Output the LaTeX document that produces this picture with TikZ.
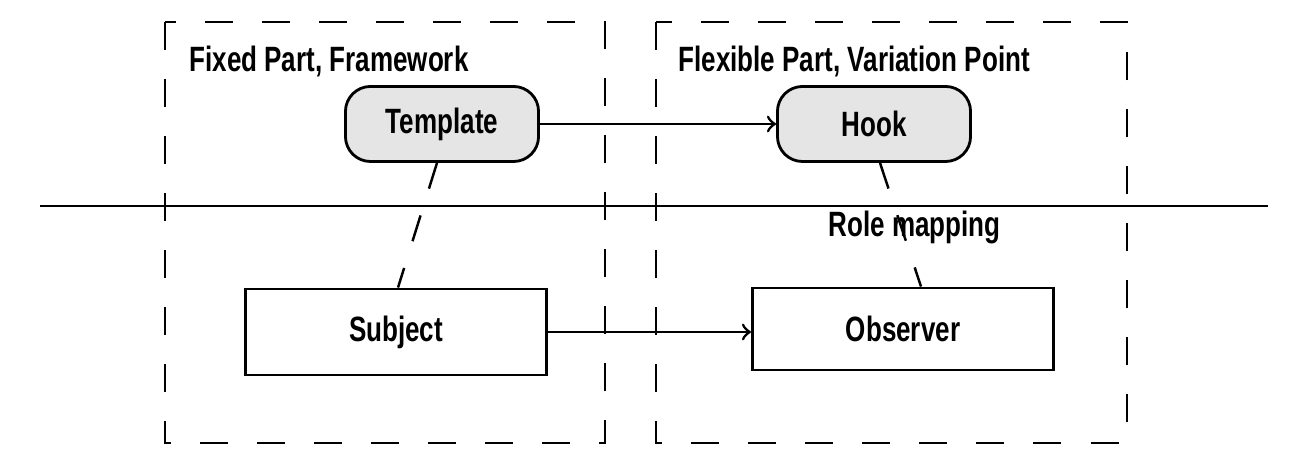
\documentclass[tikz,border=0pt]{standalone}
\usepackage{fontspec}
\setmainfont[FakeStretch=0.74]{Liberation Sans}
\usetikzlibrary{positioning}

\begin{document}
\begin{tikzpicture}[x=0.01cm,y=-0.01cm,
        every node/.style={font=\fontsize{10}{12}\selectfont\bfseries},
        part/.style={line width=0.7pt,dash pattern=on 0.28cm off 0.29cm},
        role/.style={draw,line width=0.8pt,fill=gray!20,rounded corners=0.25cm,
            minimum width=1.93cm,minimum height=0.75cm},
        cls/.style={draw,line width=0.8pt,minimum width=3.01cm},
        map/.style={line width=0.7pt,dash pattern=on 0.27cm off 0.28cm}]

\useasboundingbox (0,0) rectangle (1313,465);

\draw[part] (165,22) rectangle (605,443);
\draw[part] (656,22) rectangle (1127,443);
\draw[line width=0.6pt] (40,206) -- (1268,206);

\node[anchor=west] (fixed) at (177,61) {Fixed Part, Framework};
\node[anchor=west] (flexible) at (666,61) {Flexible Part, Variation Point};

\node[role] (template) at (442,124) {Template};
\node[role] (hook) at (874,124) {Hook};
\node[cls,minimum height=0.86cm] (subject) at (396,332) {Subject};
\node[cls,minimum height=0.82cm] (observer) at (903,329) {Observer};

\draw[->,line width=0.8pt] (template) -- (hook);
\draw[->,line width=0.8pt] (subject.east) -- (subject.east -| observer.west);

\draw[map] ([xshift=-0.05cm]template.south) -- ([xshift=0.02cm]subject.north);
\draw[map] ([xshift=0.06cm]hook.south) -- node[xshift=0.14cm,yshift=-0.03cm] (rolemap) {Role mapping}
    ([xshift=0.18cm]observer.north);
\end{tikzpicture}
\end{document}
